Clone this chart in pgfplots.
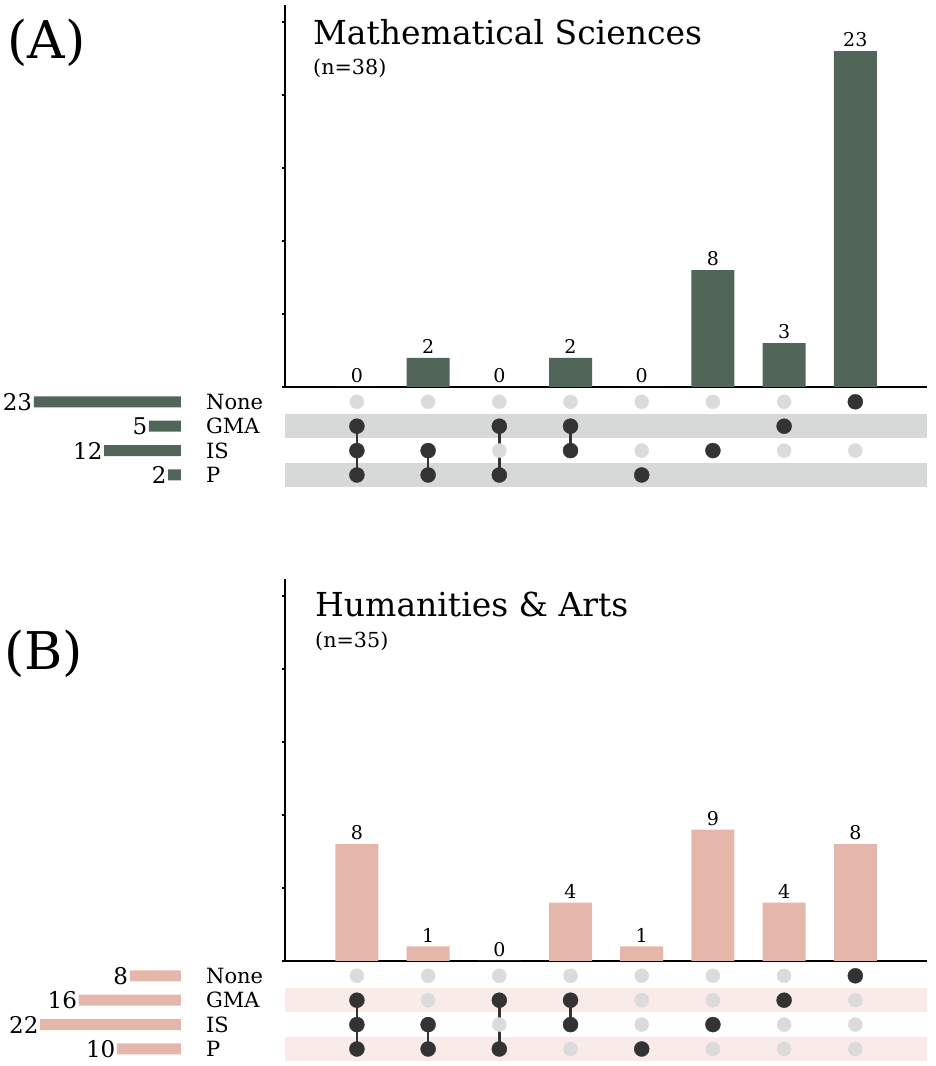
\documentclass[border=0pt]{standalone}
\usepackage{fontspec}
\setmainfont{DejaVu Serif}
\usepackage{pgfplots}
\pgfplotsset{compat=1.18}
\definecolor{mgreen}{HTML}{516559}
\definecolor{mpink}{HTML}{E5B7AB}
\definecolor{bandA}{HTML}{D6D9D7}
\definecolor{bandB}{HTML}{F9ECE8}
\definecolor{gdot}{HTML}{DBDBDB}
\definecolor{kdot}{HTML}{333333}
\pgfplotsset{
  /pgf/number format/assume math mode=true,
  barax/.style={
    x=71.2pt, y=14.6pt,
    xmin=-0.01, xmax=9, ymin=0, ymax=26.16,
    axis x line=bottom, axis y line=left,
    axis line style={-, line width=1.9pt, black},
    xtick=\empty, ytick={0,5,...,25}, yticklabels={},
    tick align=outside, major tick length=3.5pt,
    tick style={line width=1.2pt, black},
    ybar, bar width=43pt,
    nodes near coords,
    every node near coord/.append style={font=\fontsize{19}{22}\selectfont, text=black, inner sep=4pt},
    clip=false, anchor=south west,
  },
  matax/.style={
    x=71.2pt, y=24.4pt,
    xmin=-0.01, xmax=9, ymin=0.5, ymax=4.5,
    hide axis, clip=false, anchor=south west,
  },
  setax/.style={
    xbar, bar width=11pt,
    x=6.4pt, y=24.4pt, x dir=reverse,
    xmin=0, xmax=27, ymin=0.5, ymax=4.5,
    axis x line=none, axis y line=right,
    y axis line style={draw=none},
    major tick length=0pt,
    ytick={1,2,3,4}, yticklabels={P,IS,GMA,None},
    yticklabel style={anchor=west, inner sep=0pt, xshift=25pt, font=\fontsize{21}{24}\selectfont},
    nodes near coords,
    every node near coord/.append style={anchor=east, inner sep=1.5pt, font=\fontsize{23}{26}\selectfont, text=black},
    clip=false, anchor=south east,
  },
  gdots/.style={only marks, mark=*, mark size=7pt, color=gdot},
  kdots/.style={only marks, mark=*, mark size=7.5pt, color=kdot},
  kline/.style={kdot, line width=2.5pt, mark=none},
}
\begin{document}
\begin{tikzpicture}
\useasboundingbox (0,0) rectangle (935pt,1066pt);

% ---------------- Panel A ----------------
\node[anchor=base west, inner sep=0pt, font=\fontsize{52}{60}\selectfont] at (7pt,1007.7pt) {(A)};
\node[anchor=base west, inner sep=0pt, font=\fontsize{33}{40}\selectfont] at (313pt,1021pt) {Mathematical Sciences};
\node[anchor=base west, inner sep=0pt, font=\fontsize{20.7}{24}\selectfont] at (313pt,991pt) {(n=38)};

\begin{axis}[barax, at={(285pt,679pt)}]
\addplot[fill=mgreen, draw=none] coordinates {(1,0) (2,2) (3,0) (4,2) (5,0) (6,8) (7,3) (8,23)};
\end{axis}

\begin{axis}[matax, at={(285pt,578.8pt)}]
\addplot[fill=bandA, draw=none, mark=none] coordinates {(-0.01,2.5) (9,2.5) (9,3.5) (-0.01,3.5)} -- cycle;
\addplot[fill=bandA, draw=none, mark=none] coordinates {(-0.01,0.5) (9,0.5) (9,1.5) (-0.01,1.5)} -- cycle;
\addplot[gdots] coordinates {
(1,4) (2,4) (3,4) (4,4) (5,4) (6,4) (7,4)
(3,2) (5,2) (7,2) (8,2)};
\addplot[kline] coordinates {(1,1) (1,3)};
\addplot[kline] coordinates {(2,1) (2,2)};
\addplot[kline] coordinates {(3,1) (3,3)};
\addplot[kline] coordinates {(4,2) (4,3)};
\addplot[kdots] coordinates {
(1,3) (1,2) (1,1) (2,2) (2,1) (3,3) (3,1) (4,3) (4,2) (5,1) (6,2) (7,3) (8,4)};
\end{axis}

\begin{axis}[setax, at={(181pt,578.8pt)}]
\addplot[fill=mgreen, draw=none] coordinates {(23,4) (5,3) (12,2) (2,1)};
\end{axis}

% ---------------- Panel B ----------------
\node[anchor=base west, inner sep=0pt, font=\fontsize{52}{60}\selectfont] at (4pt,396pt) {(B)};
\node[anchor=base west, inner sep=0pt, font=\fontsize{33}{40}\selectfont] at (315pt,449.3pt) {Humanities \& Arts};
\node[anchor=base west, inner sep=0pt, font=\fontsize{20.7}{24}\selectfont] at (315pt,418.7pt) {(n=35)};

\begin{axis}[barax, at={(285pt,105pt)}]
\addplot[fill=mpink, draw=none] coordinates {(1,8) (2,1) (3,0) (4,4) (5,1) (6,9) (7,4) (8,8)};
\end{axis}

\begin{axis}[matax, at={(285pt,4.8pt)}]
\addplot[fill=bandB, draw=none, mark=none] coordinates {(-0.01,2.5) (9,2.5) (9,3.5) (-0.01,3.5)} -- cycle;
\addplot[fill=bandB, draw=none, mark=none] coordinates {(-0.01,0.5) (9,0.5) (9,1.5) (-0.01,1.5)} -- cycle;
\addplot[gdots] coordinates {
(1,4) (2,4) (3,4) (4,4) (5,4) (6,4) (7,4)
(2,3) (5,3) (6,3) (8,3)
(3,2) (5,2) (7,2) (8,2)
(4,1) (6,1) (7,1) (8,1)};
\addplot[kline] coordinates {(1,1) (1,3)};
\addplot[kline] coordinates {(2,1) (2,2)};
\addplot[kline] coordinates {(3,1) (3,3)};
\addplot[kline] coordinates {(4,2) (4,3)};
\addplot[kdots] coordinates {
(1,3) (1,2) (1,1) (2,2) (2,1) (3,3) (3,1) (4,3) (4,2) (5,1) (6,2) (7,3) (8,4)};
\end{axis}

\begin{axis}[setax, at={(181pt,4.8pt)}]
\addplot[fill=mpink, draw=none] coordinates {(8,4) (16,3) (22,2) (10,1)};
\end{axis}
\end{tikzpicture}
\end{document}
